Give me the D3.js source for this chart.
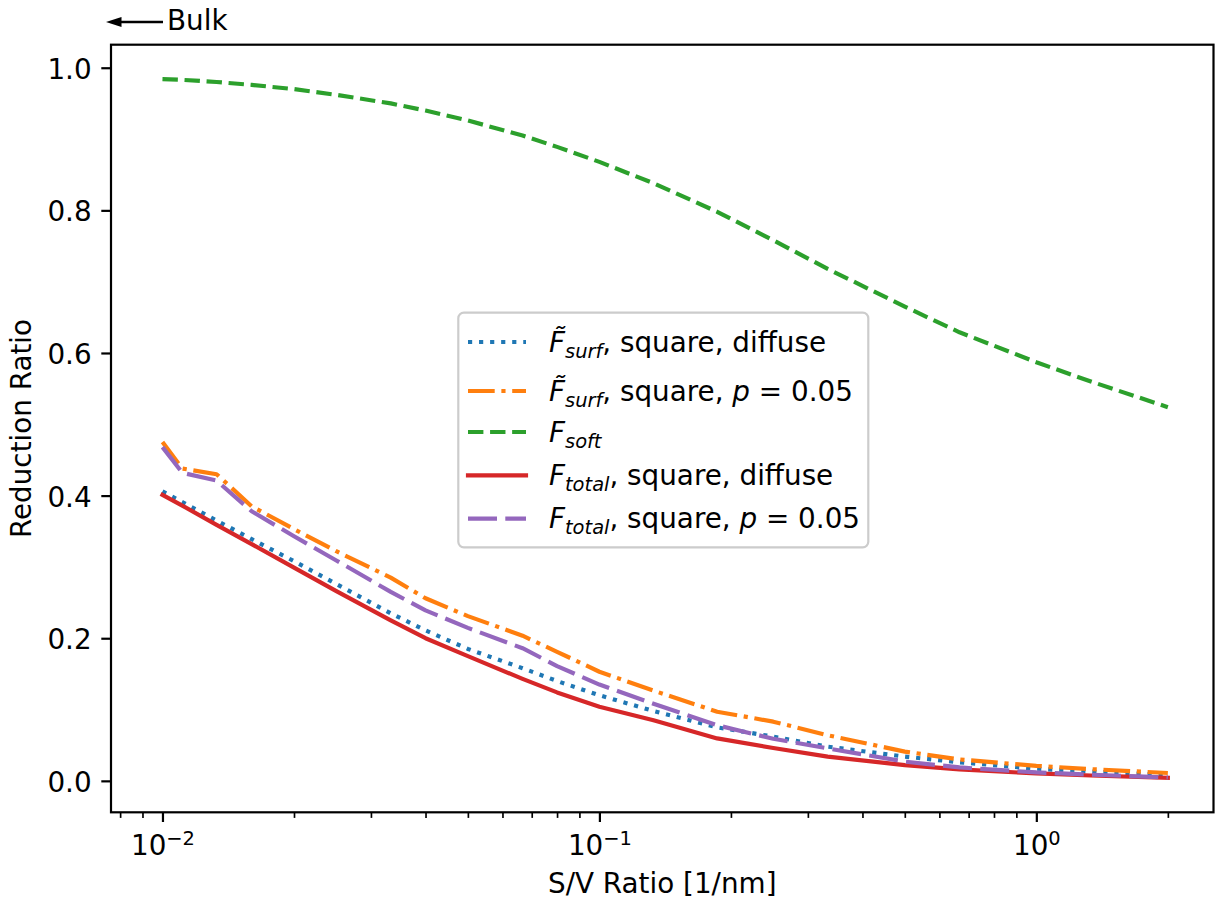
<!DOCTYPE html>
<html><head><meta charset="utf-8">
<script src="https://cdn.jsdelivr.net/npm/d3@7"></script>
<style>
html,body{margin:0;padding:0;background:#fff;}
svg{display:block;font-family:"DejaVu Sans",sans-serif;}
</style></head><body>
<svg id="chart" width="1215" height="904"></svg>
<script>
// Surface-to-volume ratio [1/nm]
const svRatio = [0.01, 0.0111, 0.0133, 0.016, 0.02, 0.025, 0.0333, 0.04, 0.05, 0.0667, 0.08, 0.1, 0.133, 0.186, 0.25, 0.333, 0.5, 0.667, 1.0, 1.333, 2.0];
// Reduction ratios for each model
const surfDiffuse  = [0.406, 0.391, 0.365, 0.339, 0.308, 0.276, 0.235, 0.211, 0.185, 0.158, 0.140, 0.120, 0.098, 0.075, 0.062, 0.048, 0.034, 0.026, 0.017, 0.013, 0.008];
const surfP005     = [0.475, 0.438, 0.430, 0.385, 0.353, 0.322, 0.285, 0.256, 0.231, 0.2035, 0.181, 0.153, 0.1265, 0.097, 0.083, 0.064, 0.041, 0.030, 0.021, 0.0164, 0.011];
const softFactor   = [0.984, 0.983, 0.980, 0.976, 0.970, 0.962, 0.950, 0.940, 0.926, 0.905, 0.889, 0.868, 0.838, 0.798, 0.758, 0.718, 0.665, 0.629, 0.587, 0.560, 0.524];
const totalDiffuse = [0.401, 0.386, 0.359, 0.332, 0.299, 0.266, 0.225, 0.200, 0.175, 0.143, 0.124, 0.104, 0.085, 0.0595, 0.046, 0.034, 0.022, 0.016, 0.0104, 0.0075, 0.0042];
const totalP005    = [0.468, 0.432, 0.421, 0.378, 0.343, 0.309, 0.265, 0.239, 0.2145, 0.186, 0.161, 0.135, 0.108, 0.078, 0.059, 0.0455, 0.027, 0.0188, 0.0118, 0.0086, 0.0048];

const yTickValues = [0.0, 0.2, 0.4, 0.6, 0.8, 1.0];
const yTickLabels = ["0.0", "0.2", "0.4", "0.6", "0.8", "1.0"];
const xTickExponents = [-2, -1, 0];
const xTickLabels = ["\u22122", "\u22121", "0"];

const xLabel = "S/V Ratio [1/nm]";
const yLabel = "Reduction Ratio";
const bulkLabel = "Bulk";

// legend label pieces: symbol (with combining tilde where needed), subscript, trailing text, optional italic p
const legendLabels = [
  {sym: "F\u0303", sub: "surf",  text: ", square, ", tail: "diffuse", p: false},
  {sym: "F\u0303", sub: "surf",  text: ", square, ", tail: " = 0.05", p: true},
  {sym: "F",       sub: "soft",  text: "", tail: "", p: false},
  {sym: "F",       sub: "total", text: ", square, ", tail: "diffuse", p: false},
  {sym: "F",       sub: "total", text: ", square, ", tail: " = 0.05", p: true}
];

const series = [
  {values: surfDiffuse,  color: "#1f77b4", dash: "4.17,6.88"},
  {values: surfP005,     color: "#ff7f0e", dash: "26.7,6.67,4.17,6.67"},
  {values: softFactor,   color: "#2ca02c", dash: "15.4,6.67"},
  {values: totalDiffuse, color: "#d62728", dash: null},
  {values: totalP005,    color: "#9467bd", dash: "29,8.3"}
];

const FS = 27.8;           // base font size (10pt)
const LW = 4.17;           // data line width
const AX = 2.2;            // spine width
const plot = {left: 111, right: 1213.5, top: 44.7, bottom: 812.3};

const svg = d3.select("#chart");

const x = d3.scaleLog()
  .domain([Math.pow(10, -2.1178), Math.pow(10, 0.4055)])
  .range([plot.left, plot.right]);
const y = d3.scaleLinear()
  .domain([-0.0441, 1.0323])
  .range([plot.bottom, plot.top]);

// data lines
const line = d3.line().x(d => x(d[0])).y(d => y(d[1]));
series.forEach(s => {
  svg.append("path")
    .datum(svRatio.map((v, i) => [v, s.values[i]]))
    .attr("d", line)
    .attr("fill", "none")
    .attr("stroke", s.color)
    .attr("stroke-width", LW)
    .attr("stroke-linejoin", "round")
    .attr("stroke-linecap", s.dash ? "butt" : "square")
    .attr("stroke-dasharray", s.dash);
});

// x axis: major ticks at decades, minor ticks at 2..9
const xMinor = [];
for (let e = -3; e <= 0; e++) {
  for (let m = 2; m <= 9; m++) {
    const v = m * Math.pow(10, e);
    const px = x(v);
    if (px >= plot.left && px <= plot.right) xMinor.push(v);
  }
}
const xAxisMinor = d3.axisBottom(x).tickValues(xMinor).tickSize(5.6).tickFormat("");
const gxm = svg.append("g").attr("transform", `translate(0,${plot.bottom})`).call(xAxisMinor);
gxm.select(".domain").remove();
gxm.selectAll(".tick line").attr("stroke", "#000").attr("stroke-width", 1.67);

const xAxisMajor = d3.axisBottom(x).tickValues(xTickExponents.map(e => Math.pow(10, e))).tickSize(9.7).tickFormat("");
const gx = svg.append("g").attr("transform", `translate(0,${plot.bottom})`).call(xAxisMajor);
gx.select(".domain").remove();
gx.selectAll(".tick line").attr("stroke", "#000").attr("stroke-width", AX);
gx.selectAll(".tick").each(function(d, i) {
  const t = d3.select(this).append("text")
    .attr("y", 42.7)
    .attr("text-anchor", "middle")
    .attr("fill", "#000")
    .attr("font-size", FS)
    .attr("font-family", "DejaVu Sans");
  t.append("tspan").text("10");
  t.append("tspan").attr("font-size", FS * 0.7).attr("dy", -10).text(xTickLabels[i]);
});

// y axis
const yAxis = d3.axisLeft(y).tickValues(yTickValues).tickSize(9.7).tickPadding(9.7)
  .tickFormat((d, i) => yTickLabels[i]);
const gy = svg.append("g").attr("transform", `translate(${plot.left},0)`).call(yAxis);
gy.select(".domain").remove();
gy.selectAll(".tick line").attr("stroke", "#000").attr("stroke-width", AX);
gy.selectAll(".tick text")
  .attr("font-size", FS)
  .attr("font-family", "DejaVu Sans")
  .attr("fill", "#000")
  .attr("dy", null)
  .attr("y", 10.5);

// frame
svg.append("rect")
  .attr("x", plot.left).attr("y", plot.top)
  .attr("width", plot.right - plot.left).attr("height", plot.bottom - plot.top)
  .attr("fill", "none").attr("stroke", "#000").attr("stroke-width", AX);

// axis labels
svg.append("text")
  .attr("x", (plot.left + plot.right) / 2).attr("y", 893)
  .attr("text-anchor", "middle").attr("font-size", FS).text(xLabel);
svg.append("text")
  .attr("transform", `translate(31,${(plot.top + plot.bottom) / 2}) rotate(-90)`)
  .attr("text-anchor", "middle").attr("font-size", FS).text(yLabel);

// "Bulk" arrow annotation
svg.append("line")
  .attr("x1", 163).attr("y1", 22).attr("x2", 118).attr("y2", 22)
  .attr("stroke", "#000").attr("stroke-width", 2.6);
svg.append("path")
  .attr("d", "M106,22 L121.5,17 L121.5,27 Z")
  .attr("fill", "#000");
svg.append("text")
  .attr("x", 167).attr("y", 29.5)
  .attr("font-size", FS).text(bulkLabel);

// legend
const leg = svg.append("g");
leg.append("rect")
  .attr("x", 458.3).attr("y", 312.7).attr("width", 410).attr("height", 234.6)
  .attr("rx", 5.6).attr("ry", 5.6)
  .attr("fill", "#fff").attr("fill-opacity", 0.8)
  .attr("stroke", "#cccccc").attr("stroke-width", 2.2);

const rowGaps = [0, 49, 41, 43.3, 43.3];
let baseline = 351.7;
legendLabels.forEach((lab, i) => {
  baseline += rowGaps[i];
  const s = series[i];
  leg.append("line")
    .attr("x1", 468).attr("x2", 526)
    .attr("y1", baseline - 9.7).attr("y2", baseline - 9.7)
    .attr("stroke", s.color).attr("stroke-width", LW)
    .attr("stroke-linecap", s.dash ? "butt" : "square")
    .attr("stroke-dasharray", s.dash);
  const t = leg.append("text").attr("x", 549).attr("y", baseline).attr("font-size", FS);
  t.append("tspan").attr("font-style", "italic").text(lab.sym);
  t.append("tspan").attr("font-style", "italic").attr("font-size", FS * 0.7)
    .attr("dy", 6).text(lab.sub);
  if (lab.text) {
    t.append("tspan").attr("dy", -6).text(lab.text);
    if (lab.p) t.append("tspan").attr("font-style", "italic").text("p");
    t.append("tspan").text(lab.tail);
  }
});
</script>
</body></html>
